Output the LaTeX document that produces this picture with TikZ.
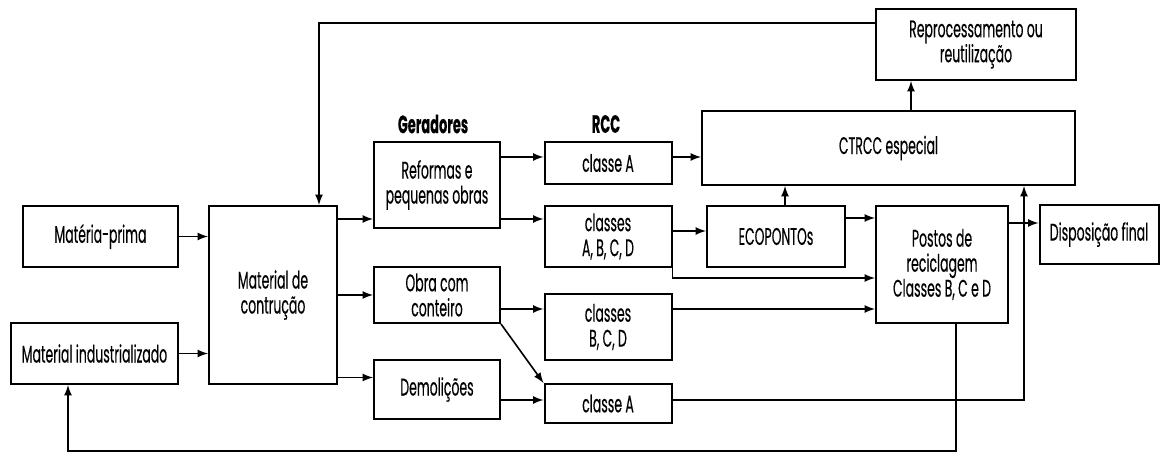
\documentclass[tikz,border=0pt]{standalone}
\usepackage{fontspec}
\setmainfont{Poppins}[FakeStretch=0.52, FakeBold=0.3]
\begin{document}
\begin{tikzpicture}[>=latex, x=0.5pt, y=-0.5pt,
  caixa/.style={draw, line width=1pt, rectangle, align=center, inner sep=2pt,
    font=\fontsize{12}{12.5}\selectfont},
  seta/.style={->, line width=0.8pt},
  titulo/.style={font=\fontsize{12.5}{13}\selectfont\bfseries}]
\useasboundingbox (0,0) rectangle (1160,453);

\node(MP)[caixa, minimum width=77.5pt, minimum height=30.5pt] at (100.5,236.5) {Matéria-prima};
\node(MI)[caixa, minimum width=83.5pt, minimum height=30.5pt] at (94.5,353.5) {Material industrializado};
\node(MC)[caixa, minimum width=64pt, minimum height=89pt] at (273,295) {Material de\\contrução};

\node(Ger)[titulo] at (433,124) {Geradores};
\node(REF)[caixa, minimum width=63pt, minimum height=43pt] at (437,185) {Reformas e\\pequenas obras};
\node(OBRA)[caixa, minimum width=63pt, minimum height=28pt] at (437,295) {Obra com\\conteiro};
\node(DEM)[caixa, minimum width=63pt, minimum height=29.5pt] at (437,389.5) {Demolições};

\node(RCC)[titulo] at (606,124) {RCC};
\node(CA1)[caixa, minimum width=63.5pt, minimum height=21pt] at (608,163) {classe A};
\node(CABCD)[caixa, minimum width=63.5pt, minimum height=30.5pt] at (608,236.5) {classes\\A, B, C, D};
\node(CBCD)[caixa, minimum width=63.5pt, minimum height=33pt] at (608,327) {classes\\B, C, D};
\node(CA2)[caixa, minimum width=63.5pt, minimum height=19.5pt] at (608,403.5) {classe A};

\node(CTRCC)[caixa, minimum width=186.5pt, minimum height=37pt] at (888.5,148) {CTRCC especial};
\node(REP)[caixa, minimum width=100pt, minimum height=35.5pt] at (976,44.5) {Reprocessamento ou\\reutilização};
\node(ECO)[caixa, minimum width=69pt, minimum height=30.5pt] at (776,236.5) {ECOPONTOs};
\node(POS)[caixa, minimum width=66pt, minimum height=58.5pt] at (942,264.5) {Postos de\\reciclagem\\Classes B, C e D};
\node(DF)[caixa, minimum width=59.5pt, minimum height=29.5pt] at (1099,234.5) {Disposição final};

% pontos auxiliares
\coordinate(r1) at ([yshift=-17pt]REF.west);
\coordinate(d1) at ([yshift=6pt]DEM.west);
\coordinate(a1) at ([yshift=3pt]CA1.west);
\coordinate(e0) at ([yshift=2.75pt]ECO.west);
\coordinate(e1) at ([yshift=9.25pt]ECO.east);
\coordinate(e2) at ([xshift=4.5pt]ECO.north);
\coordinate(f1) at ([yshift=5.75pt]DF.west);
\coordinate(p1) at ([yshift=-6.75pt]POS.west);
\coordinate(p2) at ([yshift=-22.25pt]POS.west);
\coordinate(c0) at ([yshift=1.75pt]CA2.west);
\coordinate(c1) at ([xshift=-26pt]CTRCC.south east);
\coordinate(k1) at ([xshift=11.25pt]CTRCC.north);
\coordinate(t1) at ([yshift=10.75pt]REP.west);
\coordinate(t2) at ([xshift=23pt]MC.north);
\coordinate(b1) at ([xshift=7pt]POS.south);
\coordinate(b2) at ([xshift=-13.25pt]MI.south);

\draw[seta] (MP.east) -- (MP.east -| MC.west);
\draw[seta] (MI.east) -- (MI.east -| MC.west);
\draw[seta] (r1 -| MC.east) -- (r1);
\draw[seta] (OBRA.west -| MC.east) -- (OBRA.west);
\draw[seta] (d1 -| MC.east) -- (d1);

\draw[seta] (a1 -| REF.east) -- (a1);
\draw[seta] (r1 -| REF.east) -- (r1 -| CABCD.west);
\draw[seta] (p2 -| OBRA.east) -- (p2 -| CBCD.west);
\draw[seta] (OBRA.south east) -- (CA2.north west);
\draw[seta] (c0 -| DEM.east) -- (c0);

\draw[seta] (a1 -| CA1.east) -- (a1 -| CTRCC.west);
\draw[seta] (e0 -| CABCD.east) -- (e0);
\draw[seta] (CABCD.south east) |- (p1);
\draw[seta] (p2 -| CBCD.east) -- (p2);
\draw[seta] (c0 -| CA2.east) -| (c1);

\draw[seta] (e1) -- (e1 -| POS.west);
\draw[seta] (e2) -- (e2 |- CTRCC.south);
\draw[seta] (f1 -| POS.east) -- (f1);
\draw[seta] (k1) -- (k1 |- REP.south);
\draw[seta] (t1) -| (t2);
\draw[seta] (b1) -- ++(0,-63.5pt) -| (b2);
\end{tikzpicture}
\end{document}
